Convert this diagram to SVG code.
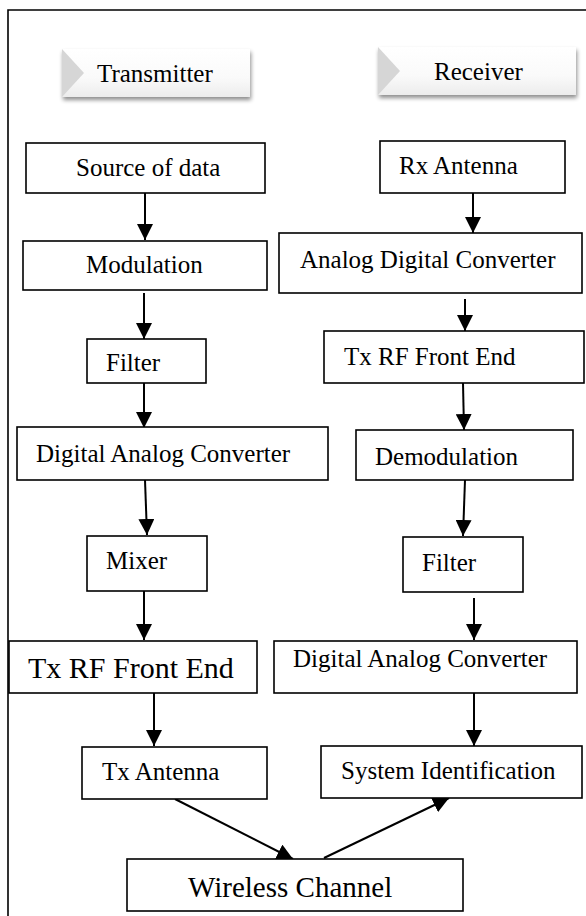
<svg xmlns="http://www.w3.org/2000/svg" width="586" height="916" viewBox="0 0 586 916">
<style>
.box{fill:#fff;stroke:#000;stroke-width:1.6}
.t{font-family:'Liberation Serif','Times New Roman',serif;font-size:25px;fill:#000}
.big{font-size:30px}
.wc{font-size:29px}
.con{stroke:#000;stroke-width:2;fill:none;marker-end:url(#ah)}
.frame{stroke:#000;stroke-width:1.6;fill:none}
.bn{fill:url(#bg);filter:url(#sh)}
.chev{fill:#d6d6d6}
</style>
<defs>
<marker id="ah" markerUnits="userSpaceOnUse" markerWidth="16" markerHeight="16" viewBox="0 0 15 15" refX="15" refY="7.5" orient="auto">
<path d="M0,0 L15,7.5 L0,15 z" fill="#000" stroke="none"/>
</marker>
<linearGradient id="bg" x1="0" y1="0" x2="0" y2="1">
<stop offset="0" stop-color="#ffffff"/>
<stop offset="0.6" stop-color="#fafafa"/>
<stop offset="1" stop-color="#ececec"/>
</linearGradient>
<filter id="sh" x="-10%" y="-20%" width="125%" height="160%">
<feGaussianBlur in="SourceAlpha" stdDeviation="2"/>
<feOffset dx="1" dy="3"/>
<feComponentTransfer><feFuncA type="linear" slope="0.45"/></feComponentTransfer>
<feMerge><feMergeNode/><feMergeNode in="SourceGraphic"/></feMerge>
</filter>
</defs>
<path class="frame" d="M8,916 V10 H586"/>
<g id="banner-tx">
<rect class="bn" x="62" y="49" width="188" height="48"/>
<path class="chev" d="M62,49 L84,73 L62,97 z"/>
<text class="t" x="97" y="82">Transmitter</text>
</g>
<g id="banner-rx">
<rect class="bn" x="378" y="47" width="198" height="48"/>
<path class="chev" d="M378,47 L400,71 L378,95 z"/>
<text class="t" x="434" y="80">Receiver</text>
</g>
<g id="connectors">
<path class="con" d="M145,193 V240"/>
<path class="con" d="M144,293 V339"/>
<path class="con" d="M144,383 V428"/>
<path class="con" d="M145,480 L147,535"/>
<path class="con" d="M144,591 V640"/>
<path class="con" d="M154,693 V746"/>
<path class="con" d="M175,799 L293,859"/>
<path class="con" d="M473,193 V233"/>
<path class="con" d="M465,299 V331"/>
<path class="con" d="M463,383 L464,430"/>
<path class="con" d="M465,480 L463,536"/>
<path class="con" d="M474,598 V640"/>
<path class="con" d="M474,693 V746"/>
<path class="con" d="M324,858 L449,798"/>
</g>
<g id="source"><rect class="box" x="26" y="143" width="239" height="50"/><text class="t" x="76" y="176">Source of data</text></g>
<g id="rx-antenna"><rect class="box" x="380" y="141" width="185" height="52"/><text class="t" x="399" y="174">Rx Antenna</text></g>
<g id="modulation"><rect class="box" x="23" y="241" width="244" height="49"/><text class="t" x="86" y="273">Modulation</text></g>
<g id="adc"><rect class="box" x="279" y="233" width="303" height="60"/><text class="t" x="300" y="268">Analog Digital Converter</text></g>
<g id="filter-tx"><rect class="box" x="87" y="339" width="119" height="44"/><text class="t" x="106" y="371">Filter</text></g>
<g id="txrf-rx"><rect class="box" x="324" y="331" width="260" height="52"/><text class="t" x="344" y="365">Tx RF Front End</text></g>
<g id="dac-tx"><rect class="box" x="17" y="427" width="311" height="53"/><text class="t" x="36" y="462">Digital Analog Converter</text></g>
<g id="demodulation"><rect class="box" x="356" y="430" width="217" height="50"/><text class="t" x="375" y="465">Demodulation</text></g>
<g id="mixer"><rect class="box" x="87" y="536" width="120" height="55"/><text class="t" x="106" y="569">Mixer</text></g>
<g id="filter-rx"><rect class="box" x="403" y="537" width="120" height="55"/><text class="t" x="422" y="571">Filter</text></g>
<g id="txrf-tx"><rect class="box" x="9" y="641" width="248" height="52"/><text class="t big" x="28" y="678">Tx RF Front End</text></g>
<g id="dac-rx"><rect class="box" x="274" y="641" width="303" height="52"/><text class="t" x="293" y="667">Digital Analog Converter</text></g>
<g id="tx-antenna"><rect class="box" x="82" y="747" width="185" height="52"/><text class="t" x="102" y="780">Tx Antenna</text></g>
<g id="system-id"><rect class="box" x="321" y="746" width="261" height="52"/><text class="t" x="341" y="779">System Identification</text></g>
<g id="wireless"><rect class="box" x="127" y="859" width="336" height="52"/><text class="t wc" x="188" y="897">Wireless Channel</text></g>
</svg>
